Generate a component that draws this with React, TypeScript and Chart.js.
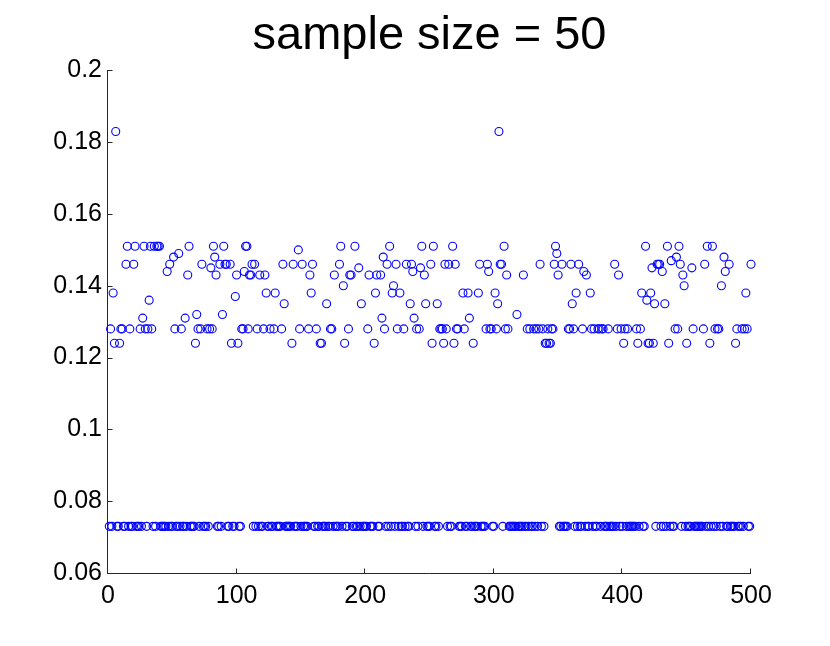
import React, { useEffect, useRef } from "react";
import { Chart, registerables } from "chart.js";

Chart.register(...registerables);

const TITLE = "sample size = 50";

// y value of each sample, index 1..500
const values: number[] = [
  0.073, 0.128, 0.073, 0.138, 0.124, 0.183, 0.073, 0.073, 0.124, 0.128, 0.128, 0.073, 0.073, 0.146, 0.151, 0.073, 0.128, 0.073, 0.073, 0.146,
  0.151, 0.073, 0.073, 0.073, 0.128, 0.073, 0.131, 0.151, 0.128, 0.073, 0.128, 0.136, 0.151, 0.128, 0.073, 0.151, 0.073, 0.151, 0.151, 0.151,
  0.073, 0.073, 0.073, 0.073, 0.073, 0.144, 0.073, 0.146, 0.073, 0.073, 0.148, 0.128, 0.073, 0.073, 0.149, 0.073, 0.128, 0.073, 0.073, 0.131,
  0.073, 0.143, 0.151, 0.073, 0.073, 0.073, 0.073, 0.124, 0.132, 0.128, 0.073, 0.128, 0.146, 0.073, 0.073, 0.073, 0.128, 0.073, 0.128, 0.145,
  0.128, 0.151, 0.148, 0.143, 0.073, 0.073, 0.146, 0.073, 0.132, 0.151, 0.146, 0.146, 0.073, 0.073, 0.146, 0.124, 0.073, 0.073, 0.137, 0.143,
  0.124, 0.073, 0.073, 0.128, 0.128, 0.144, 0.151, 0.151, 0.128, 0.143, 0.143, 0.146, 0.073, 0.146, 0.073, 0.128, 0.073, 0.143, 0.073, 0.073,
  0.128, 0.143, 0.138, 0.073, 0.073, 0.128, 0.073, 0.073, 0.128, 0.138, 0.073, 0.073, 0.073, 0.073, 0.128, 0.146, 0.135, 0.073, 0.073, 0.073,
  0.073, 0.073, 0.124, 0.146, 0.073, 0.073, 0.073, 0.150, 0.128, 0.073, 0.146, 0.073, 0.073, 0.073, 0.073, 0.128, 0.143, 0.138, 0.146, 0.073,
  0.073, 0.128, 0.073, 0.073, 0.124, 0.124, 0.073, 0.073, 0.073, 0.135, 0.073, 0.073, 0.128, 0.128, 0.073, 0.143, 0.073, 0.073, 0.073, 0.146,
  0.151, 0.073, 0.140, 0.124, 0.073, 0.073, 0.128, 0.143, 0.143, 0.073, 0.073, 0.151, 0.073, 0.073, 0.145, 0.073, 0.135, 0.073, 0.073, 0.073,
  0.073, 0.128, 0.143, 0.073, 0.073, 0.073, 0.124, 0.138, 0.143, 0.073, 0.073, 0.143, 0.131, 0.148, 0.128, 0.073, 0.146, 0.073, 0.151, 0.073,
  0.138, 0.140, 0.073, 0.146, 0.128, 0.073, 0.138, 0.073, 0.073, 0.128, 0.073, 0.146, 0.073, 0.073, 0.135, 0.146, 0.144, 0.131, 0.073, 0.128,
  0.073, 0.128, 0.145, 0.151, 0.073, 0.143, 0.135, 0.073, 0.073, 0.073, 0.146, 0.124, 0.151, 0.073, 0.073, 0.135, 0.073, 0.128, 0.128, 0.128,
  0.124, 0.146, 0.128, 0.073, 0.146, 0.073, 0.073, 0.151, 0.124, 0.146, 0.128, 0.128, 0.073, 0.073, 0.073, 0.138, 0.128, 0.073, 0.073, 0.138,
  0.131, 0.073, 0.073, 0.124, 0.073, 0.073, 0.073, 0.138, 0.146, 0.073, 0.073, 0.073, 0.073, 0.128, 0.146, 0.144, 0.128, 0.128, 0.073, 0.073,
  0.138, 0.128, 0.135, 0.183, 0.146, 0.146, 0.073, 0.151, 0.128, 0.143, 0.128, 0.073, 0.073, 0.073, 0.073, 0.073, 0.073, 0.132, 0.073, 0.073,
  0.073, 0.073, 0.143, 0.073, 0.073, 0.128, 0.073, 0.128, 0.073, 0.073, 0.128, 0.073, 0.128, 0.073, 0.128, 0.146, 0.073, 0.128, 0.073, 0.124,
  0.124, 0.128, 0.124, 0.124, 0.128, 0.128, 0.146, 0.151, 0.149, 0.143, 0.073, 0.073, 0.146, 0.073, 0.073, 0.073, 0.073, 0.128, 0.128, 0.146,
  0.135, 0.128, 0.073, 0.138, 0.073, 0.146, 0.073, 0.073, 0.128, 0.144, 0.073, 0.143, 0.073, 0.073, 0.138, 0.128, 0.073, 0.128, 0.073, 0.073,
  0.128, 0.128, 0.073, 0.128, 0.128, 0.073, 0.073, 0.073, 0.128, 0.073, 0.073, 0.073, 0.073, 0.146, 0.073, 0.128, 0.143, 0.073, 0.128, 0.073,
  0.124, 0.128, 0.073, 0.128, 0.073, 0.073, 0.073, 0.073, 0.073, 0.073, 0.128, 0.124, 0.073, 0.128, 0.138, 0.073, 0.073, 0.151, 0.136, 0.124,
  0.124, 0.138, 0.145, 0.124, 0.135, 0.073, 0.146, 0.146, 0.146, 0.073, 0.144, 0.073, 0.135, 0.073, 0.151, 0.124, 0.073, 0.147, 0.073, 0.073,
  0.128, 0.148, 0.128, 0.151, 0.146, 0.073, 0.143, 0.140, 0.073, 0.124, 0.073, 0.073, 0.073, 0.145, 0.128, 0.073, 0.073, 0.073, 0.073, 0.073,
  0.073, 0.073, 0.128, 0.146, 0.073, 0.151, 0.073, 0.124, 0.073, 0.151, 0.073, 0.128, 0.073, 0.128, 0.128, 0.073, 0.140, 0.073, 0.148, 0.144,
  0.073, 0.073, 0.146, 0.073, 0.073, 0.073, 0.073, 0.124, 0.128, 0.073, 0.073, 0.073, 0.128, 0.073, 0.128, 0.138, 0.128, 0.073, 0.073, 0.146,
];

const xTicks = [0, 100, 200, 300, 400, 500];
const xTickLabels = ["0", "100", "200", "300", "400", "500"];
const yTicks = [0.06, 0.08, 0.1, 0.12, 0.14, 0.16, 0.18, 0.2];
const yTickLabels = ["0.06", "0.08", "0.1", "0.12", "0.14", "0.16", "0.18", "0.2"];

const FONT = "'Liberation Sans', Arial, Helvetica, sans-serif";

const inwardAxes = {
  id: "inwardAxes",
  afterDraw(chart: any) {
    const { ctx, chartArea: a, scales } = chart;
    ctx.save();
    ctx.strokeStyle = "#262626";
    ctx.lineWidth = 1;
    const L = Math.round(a.left) - 0.5;
    const B = Math.round(a.bottom) + 0.5;
    ctx.beginPath();
    ctx.moveTo(L, Math.round(a.top));
    ctx.lineTo(L, B);
    ctx.lineTo(Math.round(a.right), B);
    xTicks.forEach((v) => {
      const x = Math.round(scales.x.getPixelForValue(v)) - 0.5;
      ctx.moveTo(x, B);
      ctx.lineTo(x, B - 5);
    });
    yTicks.forEach((v) => {
      const y = Math.round(scales.y.getPixelForValue(v)) + 0.5;
      ctx.moveTo(L, y);
      ctx.lineTo(L + 5, y);
    });
    ctx.stroke();
    ctx.restore();
  },
};

export default function App() {
  const ref = useRef<HTMLCanvasElement | null>(null);

  useEffect(() => {
    if (!ref.current) return;
    const points = values.map((v, i) => ({ x: i + 1, y: v }));
    const chart = new Chart(ref.current, {
      type: "scatter",
      data: {
        datasets: [
          {
            data: points,
            pointStyle: "circle",
            pointRadius: 4,
            pointBorderWidth: 1.1,
            pointBorderColor: "#0000ff",
            pointBackgroundColor: "rgba(0,0,0,0)",
            showLine: false,
            clip: false as any,
          },
        ],
      },
      options: {
        animation: false,
        responsive: false,
        devicePixelRatio: 1,
        layout: { padding: { left: 0, right: 79, top: 0, bottom: 0 } },
        plugins: {
          legend: { display: false },
          tooltip: { enabled: false },
          title: {
            display: true,
            text: TITLE,
            fullSize: false,
            color: "#000",
            font: { family: FONT, size: 47, weight: "normal", lineHeight: 1.2 },
            padding: { top: 8, bottom: 6 },
          },
        },
        scales: {
          x: {
            type: "linear",
            min: 0,
            max: 500,
            afterBuildTicks: (s: any) => {
              s.ticks = xTicks.map((v) => ({ value: v }));
            },
            afterFit: (s: any) => {
              s.height = 73;
            },
            grid: { display: false, drawTicks: false },
            border: { display: false },
            ticks: {
              autoSkip: false,
              maxRotation: 0,
              padding: 8,
              color: "#000",
              font: { family: FONT, size: 25 },
              callback: (_v: any, i: number) => xTickLabels[i],
            },
          },
          y: {
            type: "linear",
            min: 0.06,
            max: 0.2,
            afterBuildTicks: (s: any) => {
              s.ticks = yTicks.map((v) => ({ value: v }));
            },
            afterFit: (s: any) => {
              s.width = 108;
            },
            grid: { display: false, drawTicks: false },
            border: { display: false },
            ticks: {
              autoSkip: false,
              padding: 6,
              color: "#000",
              font: { family: FONT, size: 25 },
              callback: (_v: any, i: number) => yTickLabels[i],
            },
          },
        },
      },
      plugins: [inwardAxes],
    });
    return () => chart.destroy();
  }, []);

  return (
    <div style={{ position: "fixed", left: 0, top: 0, width: 830, height: 646, background: "#fff" }}>
      <canvas ref={ref} width={830} height={646} style={{ width: 830, height: 646, display: "block" }} />
    </div>
  );
}
